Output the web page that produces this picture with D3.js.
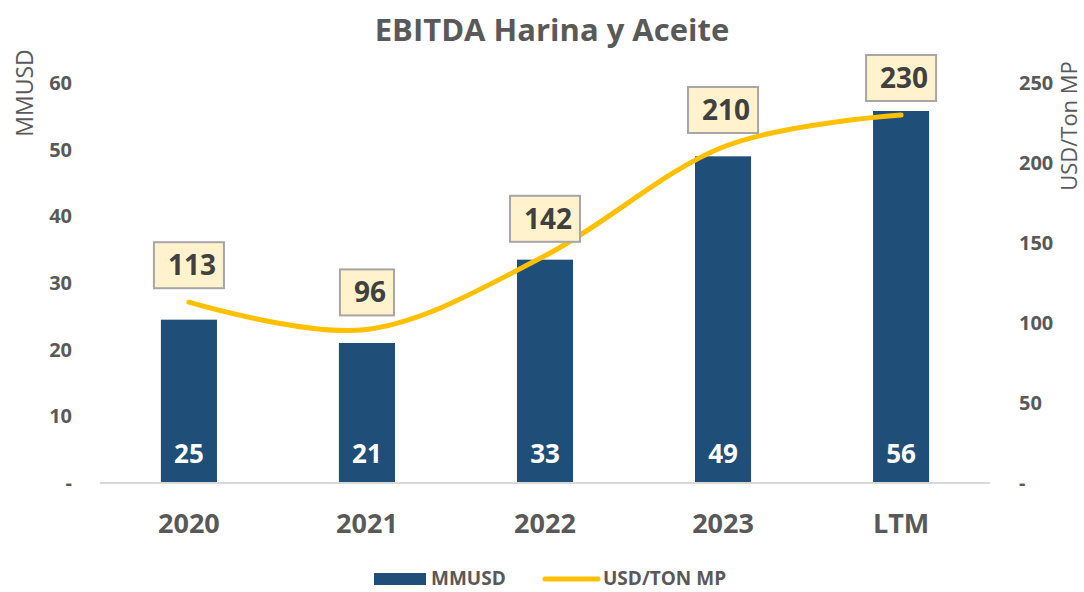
<!DOCTYPE html>
<html>
<head>
<meta charset="utf-8">
<script src="https://cdn.jsdelivr.net/npm/d3@7"></script>
<style>
  body { margin: 0; background: #fff; }
  svg { font-family: "Open Sans", "Liberation Sans", sans-serif; }
</style>
</head>
<body>
<svg id="chart" width="1084" height="592"></svg>
<script>
// data
const categories = ["2020", "2021", "2022", "2023", "LTM"];
const ebitda = [24.5, 21, 33.5, 49, 55.8];
const ebitdaLabels = ["25", "21", "33", "49", "56"];
const usdTon = [113, 96, 142, 210, 230];
const leftTicks = [0, 10, 20, 30, 40, 50, 60];
const rightTicks = [0, 50, 100, 150, 200, 250];

const MARGIN = { top: 83, right: 94, bottom: 109, left: 100 };
const width = 1084, height = 592;
const boundsWidth = width - MARGIN.left - MARGIN.right;
const boundsHeight = height - MARGIN.top - MARGIN.bottom;

const svg = d3.select("#chart");
const g = svg.append("g").attr("transform", `translate(${MARGIN.left},${MARGIN.top})`);

const xScale = d3.scaleBand().domain(categories).range([0, boundsWidth]).paddingInner(0.685).paddingOuter(0.342);
const yLeft = d3.scaleLinear().domain([0, 60]).range([boundsHeight, 0]);
const yRight = d3.scaleLinear().domain([0, 250]).range([boundsHeight, 0]);
const cx = (c) => xScale(c) + xScale.bandwidth() / 2;

const grey = "#595959";

// title
svg.append("text")
  .attr("x", 552).attr("y", 41)
  .attr("text-anchor", "middle")
  .style("font-size", "31px").style("font-weight", "bold").style("fill", grey)
  .text("EBITDA Harina y Aceite");

// left axis
const leftAxis = g.append("g").call(
  d3.axisLeft(yLeft).tickValues(leftTicks).tickSize(0).tickPadding(28)
    .tickFormat((d) => (d === 0 ? "-" : d))
);
leftAxis.attr("font-family", null).attr("font-size", null);
leftAxis.select(".domain").remove();
leftAxis.selectAll("text")
  .style("font-size", "20px").style("font-weight", "bold").style("fill", grey);

// right axis
const rightAxis = g.append("g").attr("transform", `translate(${boundsWidth},0)`).call(
  d3.axisRight(yRight).tickValues(rightTicks).tickSize(0).tickPadding(29)
    .tickFormat((d) => (d === 0 ? "-" : d))
);
rightAxis.attr("font-family", null).attr("font-size", null);
rightAxis.select(".domain").remove();
rightAxis.selectAll("text")
  .style("font-size", "20px").style("font-weight", "bold").style("fill", grey);

// axis titles
svg.append("text")
  .attr("transform", "translate(33,93) rotate(-90)")
  .attr("text-anchor", "middle")
  .style("font-size", "23px").style("fill", grey)
  .text("MMUSD");
svg.append("text")
  .attr("transform", "translate(1077,126) rotate(-90)")
  .attr("text-anchor", "middle")
  .style("font-size", "22px").style("fill", grey)
  .text("USD/Ton MP");

// bars
g.selectAll(".bar")
  .data(categories)
  .join("rect")
  .attr("class", "bar")
  .attr("x", (d) => xScale(d))
  .attr("width", xScale.bandwidth())
  .attr("y", (d, i) => yLeft(ebitda[i]))
  .attr("height", (d, i) => boundsHeight - yLeft(ebitda[i]))
  .attr("fill", "#1F4E79");

// baseline
g.append("line")
  .attr("x1", 0).attr("x2", boundsWidth)
  .attr("y1", boundsHeight).attr("y2", boundsHeight)
  .attr("stroke", "#D9D9D9").attr("stroke-width", 2);

// bar value labels
g.selectAll(".bar-label")
  .data(categories)
  .join("text")
  .attr("class", "bar-label")
  .attr("x", cx)
  .attr("y", boundsHeight - 20)
  .attr("text-anchor", "middle")
  .style("font-size", "26px").style("font-weight", "bold").style("fill", "#fff")
  .text((d, i) => ebitdaLabels[i]);

// x labels
g.selectAll(".x-label")
  .data(categories)
  .join("text")
  .attr("class", "x-label")
  .attr("x", cx)
  .attr("y", boundsHeight + 50)
  .attr("text-anchor", "middle")
  .style("font-size", "27px").style("font-weight", "bold").style("fill", grey)
  .text((d) => d);

// line
const lineGen = d3.line()
  .x((d, i) => cx(categories[i]))
  .y((d) => yRight(d))
  .curve(d3.curveCardinal.tension(0));
g.append("path")
  .datum(usdTon)
  .attr("d", lineGen)
  .attr("fill", "none")
  .attr("stroke", "#FFC000")
  .attr("stroke-width", 5)
  .attr("stroke-linecap", "round");

// line value labels in boxes
const boxes = g.selectAll(".line-label")
  .data(categories)
  .join("g")
  .attr("class", "line-label")
  .attr("transform", (d, i) => `translate(${cx(d)},${yRight(usdTon[i]) - 37})`);
boxes.append("text")
  .attr("text-anchor", "middle")
  .attr("dy", "0.36em")
  .attr("x", 3)
  .style("font-size", "28px").style("font-weight", "bold").style("fill", "#404040")
  .text((d, i) => usdTon[i]);
boxes.each(function () {
  const t = d3.select(this).select("text");
  const w = t.node().getBBox().width + 22;
  d3.select(this).insert("rect", "text")
    .attr("x", -w / 2).attr("y", -23)
    .attr("width", w).attr("height", 46)
    .attr("fill", "#FFF2CC").attr("stroke", "#A6A6A6").attr("stroke-width", 2);
});

// legend
const legend = svg.append("g").attr("transform", "translate(374,585)");
legend.append("rect").attr("x", 0).attr("y", -12).attr("width", 52).attr("height", 12).attr("fill", "#1F4E79");
legend.append("text").attr("x", 57).attr("y", 0)
  .style("font-size", "19px").style("font-weight", "bold").style("fill", grey).text("MMUSD");
legend.append("line").attr("x1", 171).attr("x2", 224).attr("y1", -6).attr("y2", -6)
  .attr("stroke", "#FFC000").attr("stroke-width", 5).attr("stroke-linecap", "round");
legend.append("text").attr("x", 229).attr("y", 0)
  .style("font-size", "19px").style("font-weight", "bold").style("fill", grey).text("USD/TON MP");
</script>
</body>
</html>
